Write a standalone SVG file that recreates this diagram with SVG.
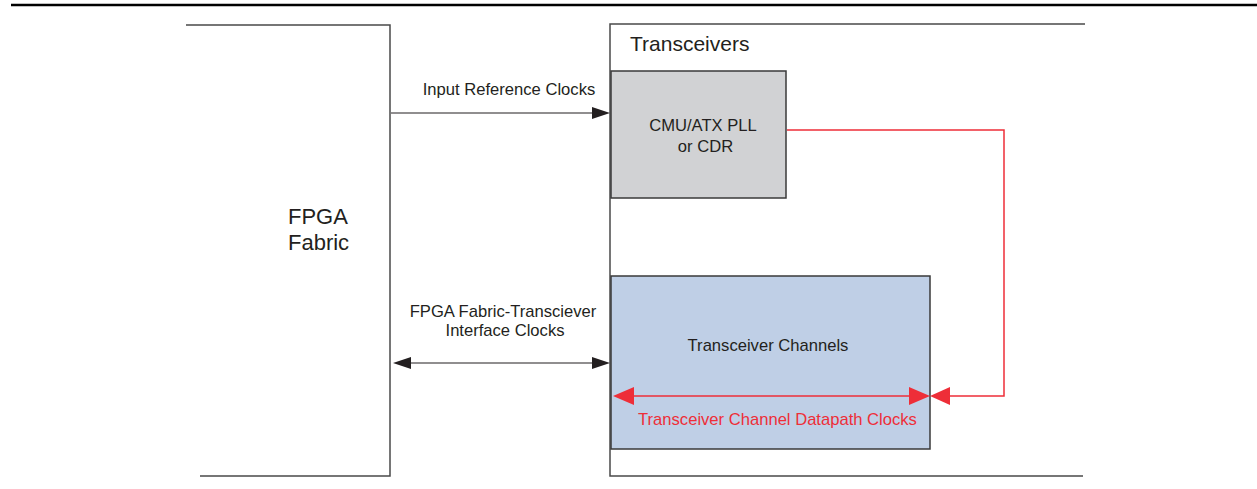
<svg xmlns="http://www.w3.org/2000/svg" width="1257" height="489" viewBox="0 0 1257 489">
<style>
.frame{fill:none;stroke:#4a4a4a;stroke-width:1.5}
.t{font-family:"Liberation Sans",Arial,sans-serif;fill:#231f20}
.l{font-size:16.6px;text-anchor:middle}
.red{stroke:#ee2e38;stroke-width:1.5;fill:none}
.blk{stroke:#231f20;stroke-width:1.2;fill:none}
</style>
<rect width="1257" height="489" fill="#fff"/>
<line x1="11" y1="5" x2="1257" y2="5" stroke="#000" stroke-width="2.5"/>
<g id="fpga-fabric">
<polyline class="frame" points="186,25 390,25 390,476 200,476"/>
<text class="t" x="288" y="224" font-size="22">FPGA</text>
<text class="t" x="288" y="250" font-size="22">Fabric</text>
</g>
<g id="transceivers">
<polyline class="frame" points="1085,24 610,24 610,476 1083,476"/>
<text class="t" x="630" y="51" font-size="21">Transceivers</text>
</g>
<g id="cmu-pll">
<rect x="611" y="71" width="175" height="127" fill="#d1d2d4" stroke="#3a3a3a" stroke-width="1.5"/>
<text class="t l" x="703" y="131">CMU/ATX PLL</text>
<text class="t l" x="705.5" y="152">or CDR</text>
</g>
<g id="transceiver-channels">
<rect x="611" y="276" width="319" height="173" fill="#bfcfe6" stroke="#3a3a3a" stroke-width="1.5"/>
<text class="t l" x="768" y="351">Transceiver Channels</text>
</g>
<g id="connectors">
<line class="blk" x1="391" y1="113" x2="594" y2="113"/>
<polygon points="610,113 592,107 592,119" fill="#231f20"/>
<text class="t l" x="509" y="95">Input Reference Clocks</text>
<line class="blk" x1="408" y1="363" x2="594" y2="363"/>
<polygon points="393,363 411,357 411,369" fill="#231f20"/>
<polygon points="610,363 592,357 592,369" fill="#231f20"/>
<text class="t l" x="503" y="316.5">FPGA Fabric-Transciever</text>
<text class="t l" x="505" y="335.5">Interface Clocks</text>
<polyline class="red" points="787,130 1004,130 1004,396 946,396"/>
<polygon points="930,396 950,387 950,405" fill="#ee2e38"/>
<line class="red" x1="630" y1="396" x2="912" y2="396"/>
<polygon points="613,396 634,387 634,405" fill="#ee2e38"/>
<polygon points="930,396 909,387 909,405" fill="#ee2e38"/>
<text x="777.5" y="425" font-size="16.6" text-anchor="middle" font-family="Liberation Sans,Arial,sans-serif" fill="#ee2e38">Transceiver Channel Datapath Clocks</text>
</g>
</svg>
